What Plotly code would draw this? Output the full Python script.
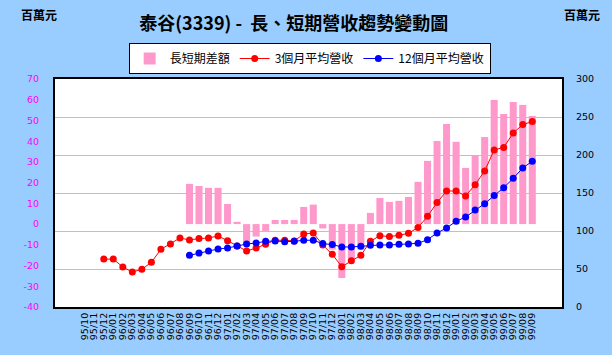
import plotly.graph_objects as go

months = ["95/10", "95/11", "95/12",
          "96/01", "96/02", "96/03", "96/04", "96/05", "96/06", "96/07", "96/08", "96/09", "96/10", "96/11", "96/12",
          "97/01", "97/02", "97/03", "97/04", "97/05", "97/06", "97/07", "97/08", "97/09", "97/10", "97/11", "97/12",
          "98/01", "98/02", "98/03", "98/04", "98/05", "98/06", "98/07", "98/08", "98/09", "98/10", "98/11", "98/12",
          "99/01", "99/02", "99/03", "99/04", "99/05", "99/06", "99/07", "99/08", "99/09"]

# 長短期差額 (left axis, 百萬元)
diff_values = [None] * 11 + [19.4, 18.4, 17.5, 17.5, 9.7, 1.1, -9.5, -6.0, -3.3, 2.0, 2.0, 2.0, 8.3, 9.4,
                             -2.1, -12.3, -26.0, -17.8, -12.3, 5.4, 12.6, 10.7, 11.2, 13.1, 20.4, 30.5,
                             40.1, 48.3, 39.7, 27.1, 33.2, 42.0, 59.9, 53.1, 58.9, 57.5, 52.2]

# 3個月平均營收 (right axis, 百萬元)
avg3_values = [None, None, 63, 63, 52.6, 46, 49.6, 58.8, 75.9, 82.9, 90.8, 88.2, 90, 90.8, 93.5, 87.3,
               80.3, 73.7, 77.6, 82.5, 87.8, 87.8, 86.9, 96, 97.4, 81.5, 69.3, 53.1, 61, 68, 86.4,
               93.9, 92.6, 94.3, 97, 104.5, 119.3, 137.4, 152.6, 152.6, 146, 161, 179, 206.6, 210,
               229, 240, 244]

# 12個月平均營收 (right axis, 百萬元)
avg12_values = [None] * 11 + [68, 71, 73.7, 76.3, 77.6, 80.3, 82.9, 84.2, 86.4, 86.9, 86, 86.4, 87.8, 87.8,
                              83.4, 82.1, 79, 79, 79.8, 81.2, 81.6, 81.6, 82.5, 82.9, 83.8, 88.6, 97.4,
                              104, 112.8, 118.4, 127.6, 136, 146.6, 157, 169.3, 183, 191.7]

left_ticks = [70, 60, 50, 40, 30, 20, 10, 0, -10, -20, -30, -40]
right_ticks = [300, 250, 200, 150, 100, 50, 0]

CJK = "Noto Sans CJK TC"
NUM = "DejaVu Sans"

fig = go.Figure()
fig.add_trace(go.Bar(
    x=months, y=diff_values, name="長短期差額",
    marker=dict(color="#FF99CC", line=dict(width=0)),
    yaxis="y",
))
fig.add_trace(go.Scatter(
    x=months, y=avg3_values, name="3個月平均營收", mode="lines+markers",
    line=dict(color="#FF0000", width=1),
    marker=dict(color="#FF0000", size=7),
    yaxis="y2",
))
fig.add_trace(go.Scatter(
    x=months, y=avg12_values, name="12個月平均營收", mode="lines+markers",
    line=dict(color="#0000FF", width=1),
    marker=dict(color="#0000FF", size=7),
    yaxis="y2",
))

fig.update_layout(
    width=612, height=355,
    margin=dict(l=55, r=50, t=79, b=48, pad=0, autoexpand=False),
    paper_bgcolor="#99CCFF",
    plot_bgcolor="#FFFFFF",
    bargap=0.26,
    showlegend=True,
    title=dict(
        text="<b>泰谷(3339) -  長、短期營收趨勢變動圖</b>",
        font=dict(family=CJK, size=18, color="#000000"),
        x=0.48, xref="container", xanchor="center",
        y=1 - 24 / 355, yref="container", yanchor="middle",
    ),
    legend=dict(
        orientation="h",
        x=0.506, xanchor="center", xref="container",
        y=1 - 43 / 355, yanchor="top", yref="container",
        bgcolor="#FFFFFF", bordercolor="#000000", borderwidth=1,
        font=dict(family=CJK, size=12, color="#000000"),
        itemwidth=30,
        traceorder="normal",
    ),
    xaxis=dict(
        type="category",
        categoryorder="array", categoryarray=months,
        tickmode="array", tickvals=months, ticktext=months,
        tickangle=-90,
        tickfont=dict(family=NUM, size=9.5, color="#000000"),
        showgrid=False,
        showline=True, linecolor="#000000", linewidth=2, mirror=True,
        ticks="", automargin=False,
    ),
    yaxis=dict(
        range=[-40, 70],
        tickvals=left_ticks,
        ticktext=[str(v) for v in left_ticks],
        tickfont=dict(family=NUM, size=9.5, color="#FF00FF"),
        showgrid=False, zeroline=False,
        showline=True, linecolor="#000000", linewidth=2,
        ticks="", ticklabelstandoff=12, automargin=False,
    ),
    yaxis2=dict(
        range=[0, 300],
        overlaying="y", side="right",
        tickvals=right_ticks,
        ticktext=[str(v) for v in right_ticks],
        tickfont=dict(family=NUM, size=9.5, color="#000000"),
        showgrid=True, gridcolor="#C0C0C0", gridwidth=1,
        zeroline=False,
        showline=True, linecolor="#000000", linewidth=2,
        ticks="", ticklabelstandoff=10, automargin=False,
    ),
    annotations=[
        dict(text="<b>百萬元</b>", xref="paper", yref="paper", x=-0.071, y=1.283,
             xanchor="left", yanchor="middle", showarrow=False,
             font=dict(family=CJK, size=12, color="#000000")),
        dict(text="<b>百萬元</b>", xref="paper", yref="paper", x=1.0, y=1.283,
             xanchor="left", yanchor="middle", showarrow=False,
             font=dict(family=CJK, size=12, color="#000000")),
    ],
)

fig.write_html("out.html", config={"displayModeBar": False},
               post_script="document.body.style.margin='0px';")
